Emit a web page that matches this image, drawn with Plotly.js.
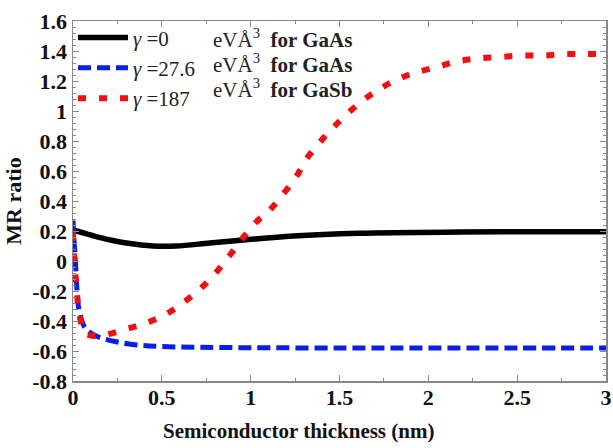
<!DOCTYPE html>
<html>
<head>
<meta charset="utf-8">
<script src="https://cdn.plot.ly/plotly-3.0.1.min.js"></script>
<style>html,body{margin:0;padding:0;background:#fff;}#chart{width:613px;height:448px;}</style>
</head>
<body>
<div id="chart"></div>
<script>
// Series: gamma = 0 eVÅ^3 for GaAs
const blackX = [0, 0.05, 0.11, 0.21, 0.30, 0.45, 0.58, 0.77, 0.96, 1.24, 1.61, 2.18, 2.81, 3.0];
const blackY = [0.207, 0.19, 0.17, 0.14, 0.12, 0.10, 0.10, 0.12, 0.14, 0.167, 0.185, 0.193, 0.195, 0.195];
// Series: gamma = 27.6 eVÅ^3 for GaAs
const blueX = [0, 0.005, 0.012, 0.02, 0.03, 0.05, 0.07, 0.10, 0.15, 0.25, 0.36, 0.49, 0.7, 1.0, 1.5, 2.0, 2.5, 3.0];
const blueY = [0.27, 0.15, 0.03, -0.15, -0.30, -0.40, -0.45, -0.48, -0.51, -0.54, -0.56, -0.57, -0.575, -0.578, -0.58, -0.58, -0.58, -0.58];
// Series: gamma = 187 eVÅ^3 for GaSb
const redX = [0, 0.01, 0.02, 0.035, 0.068, 0.12, 0.19, 0.31, 0.42, 0.53, 0.63, 0.73, 0.81, 0.89, 0.96, 1.04, 1.10, 1.165, 1.25, 1.32, 1.41, 1.49, 1.59, 1.69, 1.79, 1.91, 2.04, 2.16, 2.28, 2.40, 2.53, 2.65, 2.77, 2.89, 3.0];
const redY = [0.19, -0.04, -0.18, -0.35, -0.48, -0.50, -0.49, -0.45, -0.41, -0.35, -0.27, -0.17, -0.07, 0.05, 0.16, 0.27, 0.33, 0.42, 0.55, 0.69, 0.82, 0.92, 1.03, 1.12, 1.19, 1.25, 1.29, 1.33, 1.35, 1.36, 1.37, 1.37, 1.38, 1.38, 1.38];

const seriesNames = ['<i>γ</i> =0', '<i>γ</i> =27.6', '<i>γ</i> =187'];
const unitTexts = ['eVÅ<sup>3</sup>  <b>for GaAs</b>', 'eVÅ<sup>3</sup>  <b>for GaAs</b>', 'eVÅ<sup>3</sup>  <b>for GaSb</b>'];
const xTickVals = [0, 0.5, 1, 1.5, 2, 2.5, 3];
const xTickText = ['0', '0.5', '1', '1.5', '2', '2.5', '3'];
const yTickVals = [-0.8, -0.6, -0.4, -0.2, 0, 0.2, 0.4, 0.6, 0.8, 1, 1.2, 1.4, 1.6];
const yTickText = ['-0.8', '-0.6', '-0.4', '-0.2', '0', '0.2', '0.4', '0.6', '0.8', '1', '1.2', '1.4', '1.6'];

const font = 'Liberation Serif';
const bold = s => '<b>' + s + '</b>';

const traces = [
  {x: blackX, y: blackY, mode: 'lines', name: seriesNames[0], line: {color: '#000000', width: 5.5, shape: 'spline'}},
  {x: blueX, y: blueY, mode: 'lines', name: seriesNames[1], line: {color: '#0a1ee6', width: 5, dash: '13px,6px', shape: 'spline'}},
  {x: redX, y: redY, mode: 'lines', name: seriesNames[2], line: {color: '#f01010', width: 6, dash: '8px,13px', shape: 'spline'}}
];

const annotations = unitTexts.map((t, i) => ({
  xref: 'paper', yref: 'paper', x: (211 - 73) / 533, y: 1 - (17 + 25 * i) / 360,
  xanchor: 'left', yanchor: 'middle', showarrow: false, text: t,
  font: {family: font, size: 21, color: '#222'}
}));
annotations.push({
  xref: 'paper', yref: 'paper', x: (298 - 73) / 533, y: -(50) / 360,
  xanchor: 'center', yanchor: 'middle', showarrow: false,
  text: '<b>Semiconductor thickness (nm)</b>',
  font: {family: font, size: 21, color: '#111'}
});

const axisCommon = {
  showline: true, linecolor: '#888', linewidth: 1.5, mirror: 'ticks',
  ticks: 'inside', ticklen: 6, tickcolor: '#888', tickwidth: 1,
  showgrid: false, zeroline: false,
  tickfont: {family: font, size: 22, color: '#111', weight: 700}
};

const layout = {
  width: 613, height: 448,
  font: {family: font},
  margin: {l: 73, r: 7, t: 21, b: 67},
  paper_bgcolor: '#fff', plot_bgcolor: '#fff',
  showlegend: true,
  legend: {x: 0.0, y: 1.01, xanchor: 'left', yanchor: 'top', bgcolor: 'rgba(0,0,0,0)',
    itemwidth: 50, tracegroupgap: 0, itemclick: false,
    font: {family: font, size: 21, color: '#222'}},
  xaxis: Object.assign({}, axisCommon, {
    range: [0, 3], tickvals: xTickVals, ticktext: xTickText.map(bold),
    ticklabelstandoff: -4,
    minor: {dtick: 0.25, ticks: 'inside', ticklen: 3, tickcolor: '#888'}
  }),
  yaxis: Object.assign({}, axisCommon, {
    range: [-0.8, 1.6], tickvals: yTickVals, ticktext: yTickText.map(bold),
    ticklabelstandoff: 0,
    minor: {dtick: 0.04, ticks: 'inside', ticklen: 3, tickcolor: '#888'},
    title: {text: '<b>MR ratio</b>', font: {family: font, size: 22, color: '#111'}, standoff: 4}
  }),
  annotations: annotations
};

Plotly.newPlot('chart', traces, layout, {displayModeBar: false, staticPlot: true});
</script>
</body>
</html>
